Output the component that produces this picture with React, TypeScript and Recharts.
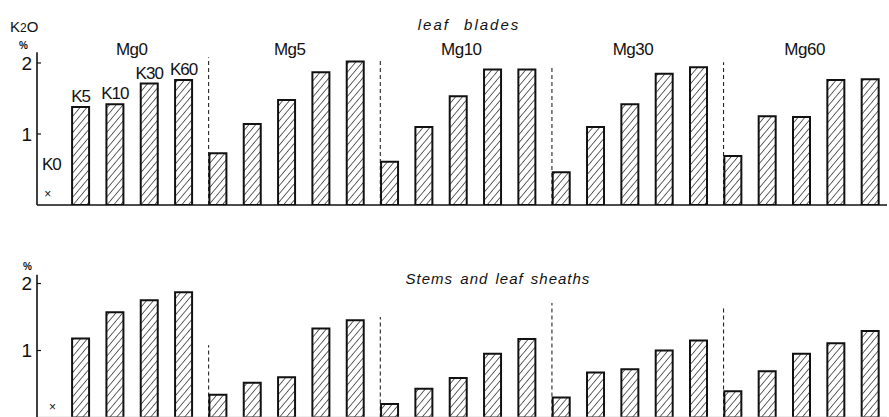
import React from "react";
import {
  BarChart,
  Bar,
  XAxis,
  YAxis,
  ReferenceLine,
  ReferenceDot,
  LabelList,
} from "recharts";

const mgLevels = ["Mg0", "Mg5", "Mg10", "Mg30", "Mg60"];
const kLevels = ["K0", "K5", "K10", "K30", "K60"];

// K2O % per Mg group, in K0..K60 order (K0 at Mg0 was not determined)
const bladeK2O = [
  [null, 1.38, 1.42, 1.71, 1.76],
  [0.73, 1.14, 1.48, 1.87, 2.02],
  [0.61, 1.1, 1.53, 1.91, 1.91],
  [0.46, 1.1, 1.42, 1.85, 1.94],
  [0.69, 1.25, 1.24, 1.76, 1.77],
];
const stemK2O = [
  [null, 1.18, 1.57, 1.75, 1.87],
  [0.34, 0.52, 0.6, 1.33, 1.45],
  [0.2, 0.43, 0.59, 0.95, 1.17],
  [0.3, 0.67, 0.72, 1.0, 1.15],
  [0.39, 0.69, 0.95, 1.11, 1.29],
];

// height reached by the dashed separators in front of Mg5..Mg60
const bladeDividerTop = [2.08, 2.07, 1.97, 2.01];
const stemDividerTop = [1.08, 1.5, 1.71, 1.65];

const yTicks = [1, 2];

const FONT = "'Liberation Sans', Arial, sans-serif";
const INK = "#111";

const rows = mgLevels.flatMap((mg, g) =>
  kLevels.map((k, i) => ({
    pos: g * kLevels.length + i,
    mg,
    k,
    blade: bladeK2O[g][i],
    stem: stemK2O[g][i],
    tag: g === 0 && i > 0 ? k : undefined,
  }))
);

const textDot = (txt: string, size: number, extra: any = {}) => (p: any) => (
  <text
    x={p.cx}
    y={p.cy}
    textAnchor="middle"
    fontFamily={FONT}
    fontSize={size}
    fill={INK}
    {...extra}
  >
    {txt}
  </text>
);

type PanelProps = {
  dataKey: "blade" | "stem";
  top: number;
  height: number;
  margin: { top: number; bottom: number };
  yMax: number;
  dividers: number[];
  hatchId: string;
  showLabels?: boolean;
  crossPos: number;
  baseColor: string;
};

function Panel(props: PanelProps) {
  const { dataKey, top, height, margin, yMax, dividers, hatchId, showLabels, crossPos, baseColor } = props;
  return (
    <div style={{ position: "absolute", left: 0, top, width: 889, height }}>
      <BarChart
        width={889}
        height={height}
        data={rows}
        margin={{ top: margin.top, right: 2, bottom: margin.bottom, left: 0 }}
      >
        <defs>
          <pattern
            id={hatchId}
            patternUnits="userSpaceOnUse"
            width="5.2"
            height="5.2"
            patternTransform="rotate(40)"
          >
            <rect width="5.2" height="5.2" fill="#fff" />
            <line x1="0" y1="0" x2="0" y2="5.2" stroke="#000" strokeWidth="1.2" />
          </pattern>
        </defs>
        <XAxis
          type="number"
          dataKey="pos"
          domain={[-0.26, 24.5]}
          allowDataOverflow
          hide
        />
        <YAxis
          type="number"
          domain={[0, yMax]}
          allowDataOverflow
          ticks={yTicks}
          width={37}
          axisLine={{ stroke: INK, strokeWidth: 1.6 }}
          tickLine={{ stroke: INK, strokeWidth: 1.2 }}
          tickSize={-4}
          tickMargin={9}
          tick={{ fill: INK, fontSize: 19, fontFamily: FONT }}
        />
        <ReferenceLine y={0} stroke={baseColor} strokeWidth={1.6} />
        {dividers.map((h, i) => (
          <ReferenceLine
            key={i}
            segment={[
              { x: (i + 1) * kLevels.length - 0.26, y: 0 },
              { x: (i + 1) * kLevels.length - 0.26, y: h },
            ]}
            stroke={INK}
            strokeWidth={1}
            strokeDasharray="4 3"
          />
        ))}
        <Bar
          dataKey={dataKey}
          barSize={17}
          fill={`url(#${hatchId})`}
          stroke={INK}
          strokeWidth={2}
          isAnimationActive={false}
        >
          {showLabels && (
            <LabelList
              dataKey="tag"
              position="top"
              offset={5}
              fill={INK}
              fontSize={17}
              fontFamily={FONT}
              letterSpacing={-1}
            />
          )}
        </Bar>
        <ReferenceDot
          x={crossPos}
          y={0.15}
          r={0}
          shape={textDot("×", 12, { dominantBaseline: "central" })}
        />
        {showLabels && (
          <ReferenceDot x={0.16} y={0.49} r={0} shape={textDot(kLevels[0], 17, { letterSpacing: -1 })} />
        )}
        {showLabels &&
          mgLevels.map((mg, g) => (
            <ReferenceDot
              key={mg}
              x={g === 0 ? 2.5 : g * kLevels.length + 2.1}
              y={2.11}
              r={0}
              shape={textDot(mg, 17, { letterSpacing: -0.5 })}
            />
          ))}
      </BarChart>
    </div>
  );
}

export default function App() {
  return (
    <div
      style={{
        position: "absolute",
        left: 0,
        top: 0,
        width: 889,
        height: 417,
        overflow: "hidden",
        background: "#fff",
      }}
    >
      <Panel
        dataKey="blade"
        top={0}
        height={215}
        margin={{ top: 52.35, bottom: 10 }}
        yMax={2.15}
        dividers={bladeDividerTop}
        hatchId="hatchBlade"
        showLabels
        crossPos={0.05}
        baseColor={INK}
      />
      <Panel
        dataKey="stem"
        top={240}
        height={180}
        margin={{ top: 34.8, bottom: 2.5 }}
        yMax={2.13}
        dividers={stemDividerTop}
        hatchId="hatchStem"
        crossPos={0.19}
        baseColor="#bbb"
      />
      <svg
        width={889}
        height={417}
        style={{ position: "absolute", left: 0, top: 0, pointerEvents: "none" }}
      >
        <text x={10} y={32} fontFamily={FONT} fontSize={15} fill={INK}>
          K<tspan fontSize={12}>2</tspan>O
        </text>
        <text x={23.5} y={49} textAnchor="middle" fontFamily={FONT} fontSize={10} fontWeight="bold" fill={INK}>
          %
        </text>
        <text x={27.5} y={270} textAnchor="middle" fontFamily={FONT} fontSize={10} fontWeight="bold" fill={INK}>
          %
        </text>
        <text
          x={469}
          y={30}
          textAnchor="middle"
          fontFamily={FONT}
          fontStyle="italic"
          fontSize={15}
          letterSpacing={2}
          wordSpacing={8}
          fill={INK}
        >
          leaf blades
        </text>
        <text
          x={498}
          y={284}
          textAnchor="middle"
          fontFamily={FONT}
          fontStyle="italic"
          fontSize={15}
          letterSpacing={1}
          wordSpacing={2}
          fill={INK}
        >
          Stems and leaf sheaths
        </text>
      </svg>
    </div>
  );
}
